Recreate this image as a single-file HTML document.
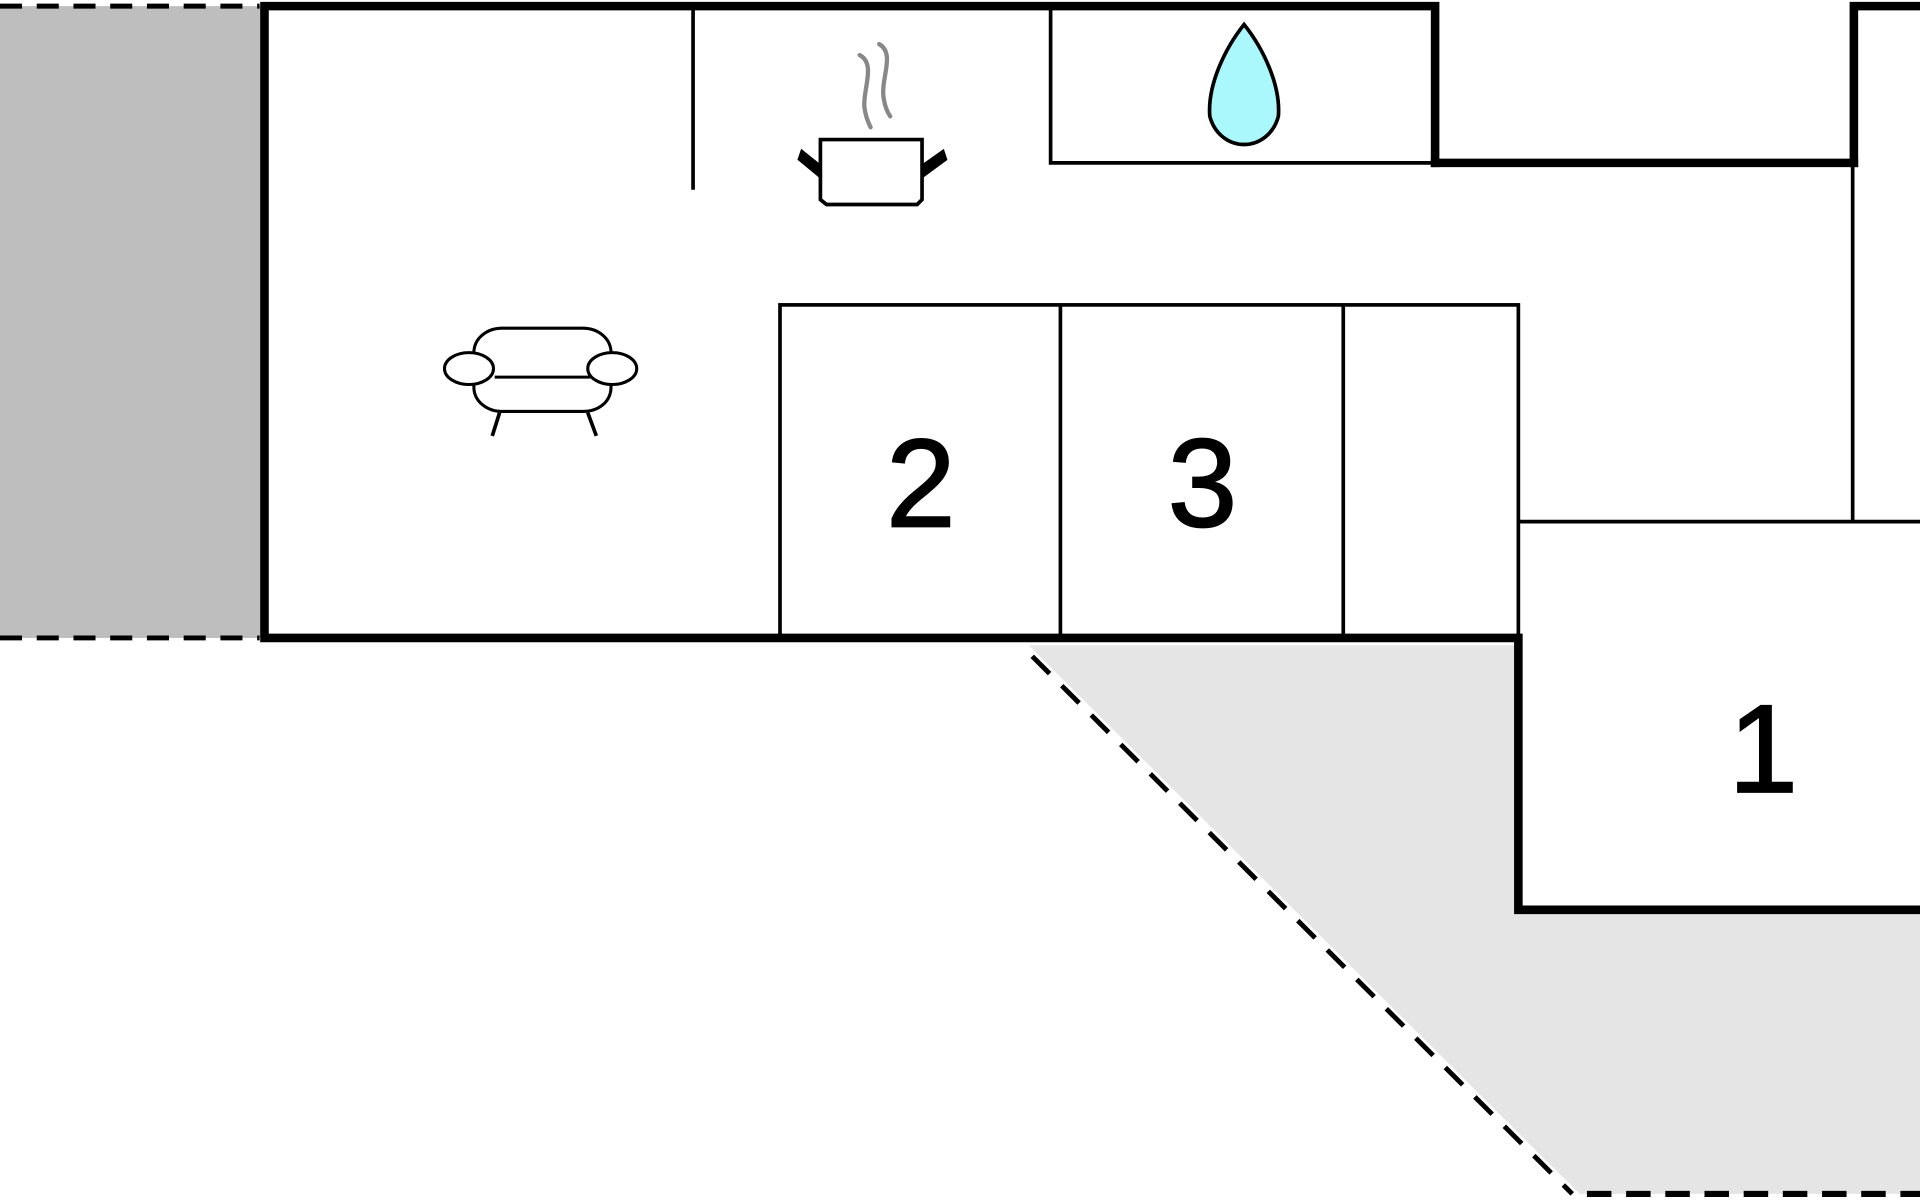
<!DOCTYPE html>
<html><head><meta charset="utf-8"><style>html,body{margin:0;padding:0;background:#fff;}svg{display:block}</style></head>
<body>
<svg width="1920" height="1200" viewBox="0 0 1568 980" xmlns="http://www.w3.org/2000/svg">
<rect x="0" y="0" width="1568" height="980" fill="#fff"/>
<!-- gray left -->
<rect x="0" y="5" width="214" height="516" fill="#bebebe"/>
<line x1="0" y1="5" x2="212" y2="5" stroke="#000" stroke-width="4" stroke-dasharray="18,12"/>
<line x1="0" y1="521" x2="212" y2="521" stroke="#000" stroke-width="4" stroke-dasharray="18,12"/>
<!-- light gray area -->
<polygon points="840,527 1240,527 1240,743 1568,743 1568,975 1290,975" fill="#e5e5e5"/>
<line x1="843" y1="536" x2="1284" y2="975" stroke="#000" stroke-width="4" stroke-dasharray="20,14"/>
<line x1="1296" y1="975" x2="1568" y2="975" stroke="#000" stroke-width="5" stroke-dasharray="20,12"/>
<!-- thin lines -->
<g stroke="#000" stroke-width="3" fill="none">
<line x1="566" y1="5" x2="566" y2="155"/>
<polyline points="858,5 858,133 1172,133"/>
<rect x="637" y="249" width="603" height="272"/>
<line x1="866" y1="249" x2="866" y2="521"/>
<line x1="1097" y1="249" x2="1097" y2="521"/>
<line x1="1513" y1="133" x2="1513" y2="426"/>
<line x1="1240" y1="426" x2="1568" y2="426"/>
</g>
<!-- thick walls -->
<g stroke="#000" stroke-width="7" fill="none" stroke-linecap="square">
<polyline points="1172,133 1172,5 216,5 216,521 1240,521 1240,743 1568,743"/>
<line x1="1172" y1="133" x2="1514" y2="133"/>
<polyline points="1514,133 1514,5 1568,5"/>
</g>
<!-- numbers -->
<g font-family="Liberation Sans, sans-serif" font-size="102" text-anchor="middle" fill="#000" stroke="#000" stroke-width="1.5">
<text x="752" y="430">2</text>
<text x="982" y="430">3</text>
<text x="1440" y="647">1</text>
</g>
<!-- pot -->
<g stroke="#000" stroke-width="3" fill="#fff">
<path d="M670,114 H753 V163 L749,167 H675 L670,163 Z"/>
<path d="M670,144 L653,130 L655,124 L670,136" fill="#000"/>
<path d="M753,144 L772,130 L770,124 L753,136" fill="#000"/>
</g>
<g stroke="#888" stroke-width="3.5" fill="none" stroke-linecap="round">
<path d="M702,45 C716,52 704,75 706,88 C707,96 710,102 711,104"/>
<path d="M718,36 C732,44 718,66 722,82 C723,88 725,92 727,95"/>
</g>
<!-- drop -->
<path d="M1016,20 C1000,40 986,70 988,95 C992,110 1004,118 1016,118 C1028,118 1040,110 1044,95 C1046,70 1032,40 1016,20 Z" fill="#aaf8fc" stroke="#000" stroke-width="3"/>
<!-- sofa -->
<g stroke="#000" stroke-width="2.5" fill="#fff">
<path d="M387,288 C387,276 398,268 410,268 H476 C488,268 499,276 499,288 V316 C499,328 489,336 476,336 H410 C398,336 387,328 387,316 Z"/>
<line x1="404" y1="308" x2="482" y2="308"/>
<line x1="408" y1="337" x2="402" y2="356" stroke-width="3"/>
<line x1="480" y1="337" x2="487" y2="356" stroke-width="3"/>
<ellipse cx="383" cy="301" rx="20" ry="13"/>
<ellipse cx="500" cy="301" rx="20" ry="13"/>
</g>
</svg>
</body></html>
